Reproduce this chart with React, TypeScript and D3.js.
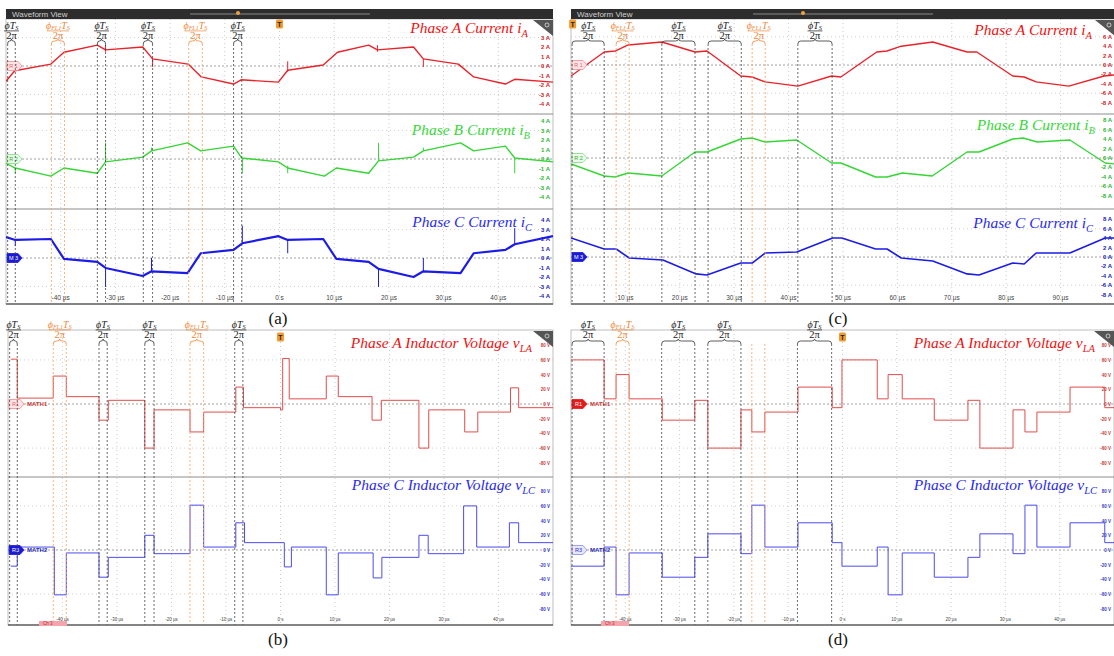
import React from "react";
import * as d3 from "d3";

const SERIF = "'Liberation Serif','Times New Roman',serif";
const SANS = "'Liberation Sans','DejaVu Sans',Arial,sans-serif";

// ---------------- DATA ----------------
// time tick labels (µs)
const timeTicksAB = [-40, -30, -20, -10, 0, 10, 20, 30, 40];
const timeTicksC = [10, 20, 30, 40, 50, 60, 70, 80, 90];
const timeTicksD = [-40, -30, -20, -10, 0, 10, 20, 30, 40];

// y tick labels
const ticksA_iA = [3, 2, 1, 0, -1, -2, -3, -4];
const ticksA_iBC = [4, 3, 2, 1, 0, -1, -2, -3, -4];
const ticksC_iA = [6, 4, 2, 0, -2, -4, -6, -8];
const ticksC_iBC = [8, 6, 4, 2, 0, -2, -4, -6, -8];
const ticksV = [80, 60, 40, 20, 0, -20, -40, -60, -80];

// bracket intervals [start, end] (µs)
const phiIntervalsAB = [[-49.7, -48.3], [-33.3, -31.8], [-24.9, -23.2], [-8.4, -6.9]];
const fl1IntervalsAB = [[-41.7, -39.3], [-16.6, -14.1]];
const phiIntervalsC = [[0.2, 6.1], [16.7, 22.8], [25.2, 31.3], [41.7, 48.0]];
const fl1IntervalsC = [[8.3, 10.7], [33.3, 35.7]];
const phiIntervalsD = [[-49.8, -43.9], [-33.3, -27.2], [-24.8, -18.7], [-8.3, -2.0]];
const fl1IntervalsD = [[-41.7, -39.3], [-16.7, -14.3]];

// Panel (a): [time µs, current A]
const a_iA = [
  [-50, -1.6], [-48.4, -0.5], [-41.8, 0.2], [-39.4, 1.45], [-33.3, 2.2], [-31.8, 1.7],
  [-25.0, 2.0], [-23.2, 0.75], [-16.7, 0.2], [-14.3, -1.15], [-8.4, -1.9], [-7.0, -1.45],
  [-0.2, -1.7], [1.5, -0.45], [8.0, 0.1], [10.6, 1.45], [16.3, 2.2], [17.9, 1.7],
  [24.5, 2.0], [26.3, 0.75], [32.7, 0.2], [35.5, -1.15], [41.3, -1.9], [43.0, -1.4], [50, -1.7],
];
const a_iB = [
  [-50, -0.45], [-48.3, -0.95], [-41.8, -1.8], [-39.4, -0.95], [-33.3, -1.5], [-31.8, -0.3],
  [-25.0, 0.2], [-23.4, 0.85], [-16.8, 1.7], [-14.4, 0.85], [-8.4, 1.35], [-6.9, 0.1],
  [-0.2, -0.3], [1.5, -0.95], [8.2, -1.8], [10.4, -0.95], [16.3, -1.5], [18.1, -0.2],
  [24.5, 0.2], [26.3, 0.85], [33.1, 1.7], [35.5, 0.85], [41.3, 1.35], [43.0, 0.1], [50, -0.3],
];
const a_iC = [
  [-50, 2.2], [-48.3, 1.9], [-41.8, 2.0], [-39.4, -0.1], [-33.3, -0.4], [-31.8, -1.05],
  [-25.0, -1.9], [-23.4, -1.4], [-16.8, -1.6], [-14.4, 0.5], [-8.4, 0.85], [-6.8, 1.55],
  [-0.2, 2.3], [1.5, 1.9], [8.0, 2.0], [10.4, -0.1], [16.3, -0.4], [18.1, -1.15],
  [24.5, -2.0], [26.3, -1.4], [33.1, -1.6], [35.5, 0.5], [41.3, 0.85], [43.0, 1.45], [50, 2.3],
];
// switching spikes [time, from, to]
const a_spikesA = [[-31.8, 2.2, 1.5], [-23.2, 0.75, -0.1], [1.5, 0.5, -0.6], [17.9, 2.2, 1.5], [26.3, 0.75, -0.1]];
const a_spikesB = [[-48.3, -0.95, -1.5], [-31.8, -0.3, 1.7], [-23.4, 0.85, 1.2], [-6.8, 0.1, -1.5], [1.5, -0.7, -1.5], [18.1, -0.2, 1.7], [26.3, 0.85, 1.2], [43.0, 0.1, -1.5]];
const a_spikesC = [[-48.3, 1.9, 1.25], [-31.8, -1.05, -3.05], [-23.4, -1.4, 0], [-6.8, 1.55, 3.4], [1.5, 1.9, 0.5], [18.1, -1.15, -3.05], [26.3, -1.4, 0], [43.0, 1.45, 3.15]];

// Panel (c): [time µs, current A]
const c_iA = [
  [0, -2.34], [6.1, 2.77], [8.2, 2.98], [10.5, 4.26], [16.7, 4.9], [22.8, 2.77], [25.0, 2.98],
  [31.2, -2.34], [33.3, -2.55], [35.7, -3.6], [41.7, -4.5], [47.9, -2.34], [49.6, -2.55],
  [56.2, 2.77], [58.1, 2.98], [60.7, 4.0], [66.5, 4.9], [72.8, 2.77], [74.6, 2.77],
  [81.2, -2.34], [83.3, -2.55], [85.5, -3.6], [91.5, -4.5], [98.0, -2.34], [100, -2.1],
];
const c_iB = [
  [0, -1.28], [6.1, -3.83], [8.1, -4.04], [10.5, -3.19], [16.7, -3.83], [22.8, 1.28], [25.0, 1.28],
  [31.2, 4.04], [33.3, 4.26], [35.7, 3.4], [41.5, 3.83], [47.9, -1.06], [49.6, -1.06],
  [56.0, -4.04], [58.1, -4.04], [60.9, -3.19], [66.4, -3.83], [72.8, 1.28], [75.0, 1.28],
  [81.2, 4.04], [83.1, 4.26], [85.7, 3.4], [91.7, 3.83], [98.2, -1.06], [100, -1.28],
];
const c_iC = [
  [0, 4.04], [6.1, 1.7], [8.3, 1.7], [10.7, -0.21], [16.9, -0.64], [23.0, -3.6], [25.0, -3.83],
  [31.2, -1.28], [33.3, -1.28], [35.7, 0.85], [41.5, 1.06], [48.1, 4.04], [49.8, 4.04],
  [56.0, 1.7], [58.1, 1.7], [60.7, -0.21], [66.5, -0.85], [72.8, -3.6], [75.0, -3.83],
  [81.2, -1.28], [83.3, -1.49], [85.5, 0.85], [91.7, 0.85], [98.2, 4.04], [100, 4.04],
];

// Panel (b): step edges (µs) and levels (V)
const b_vLA_times = [-49.5, -48.3, -41.7, -39.3, -33.3, -31.6, -24.9, -23.2, -16.6, -14.1, -8.2, -6.8, 0, 0.4, 1.6, 8.4, 10.6, 16.8, 18.5, 25.4, 27.2, 33.8, 36.2, 42.2, 43.7, 50];
const b_vLA_levels = [61, 8, 38, 10, -22, 5, -60, -8, -38, -11, 23, -5, -8, 62, 7, 38, 10, -22, 5, -60, -8, -38, -11, 22, -5];
const b_vLC_times = [-49.5, -48.3, -41.5, -39.3, -33.3, -31.6, -24.9, -23.2, -16.6, -14.1, -8.2, -6.6, 0.7, 2.0, 8.4, 10.6, 17.0, 18.6, 25.4, 27.1, 33.6, 36.0, 42.0, 43.7, 50];
const b_vLC_levels = [-22, 4, -61, -4, -37, -10, 20, -5, 61, 4, 37, 10, -23, 4, -61, -4, -38, -10, 20, -5, 60, 4, 37, 10];

// Panel (d): step edges (µs) and levels (V)
const d_times = [-50, -43.9, -41.7, -39.3, -33.2, -27.2, -24.8, -18.7, -16.7, -14.3, -8.2, -1.9, -0.1, 6.4, 8.4, 11.0, 16.9, 23.1, 25.3, 31.4, 33.6, 35.8, 41.9, 48.3, 50];
const d_vLA_levels = [60, 7, 40, 7, -22, 5, -60, -8, -38, -11, 23, -5, 60, 7, 40, 7, -22, 5, -60, -8, -38, -11, 23, -5];
const d_vLC_levels = [-22, 4, -61, -4, -37, -10, 22, -5, 61, 4, 37, 10, -22, 4, -61, -4, -37, -10, 22, -5, 61, 4, 37, 10];

// ---------------- COMPONENTS ----------------
let uid = 0;

function bracePath(xa: number, xb: number, y: number) {
  const m = (xa + xb) / 2;
  const r = Math.min(3, (xb - xa) / 4);
  return `M${xa},${y + 5} Q${xa},${y + 2} ${xa + r},${y + 2} L${m - r},${y + 2} Q${m},${y + 2} ${m},${y} Q${m},${y + 2} ${m + r},${y + 2} L${xb - r},${y + 2} Q${xb},${y + 2} ${xb},${y + 5}`;
}

function FracLabel({ cx, y, orange }: any) {
  const col = orange ? "#f0873a" : "#1a1a1a";
  const w = orange ? 22 : 15;
  return (
    <g fontFamily={SERIF} fontStyle="italic" fill={col}>
      {orange ? (
        <text x={cx} y={y} textAnchor="middle" fontSize={10}>
          ϕ<tspan fontSize={6} dy={1.2}>FL1</tspan>
          <tspan fontSize={10} dy={-1.2}>T</tspan>
          <tspan fontSize={6.5} dy={1.2}>S</tspan>
        </text>
      ) : (
        <text x={cx} y={y} textAnchor="middle" fontSize={10}>
          ϕT<tspan fontSize={6.5} dy={1.2}>S</tspan>
        </text>
      )}
      <line x1={cx - w / 2} x2={cx + w / 2} y1={y + 2.4} y2={y + 2.4} stroke={col} strokeWidth={0.7} />
      <text x={cx} y={y + 10.5} textAnchor="middle" fontSize={10.5} fontStyle="normal">2π</text>
    </g>
  );
}

function Marker({ x0, zy, m }: any) {
  const pts = `${x0 + 1},${zy - 4.5} ${x0 + 12},${zy - 4.5} ${x0 + 16},${zy} ${x0 + 12},${zy + 4.5} ${x0 + 1},${zy + 4.5}`;
  return (
    <g>
      <polygon points={pts} fill={m.fill} stroke={m.stroke} strokeWidth={0.8} />
      <text x={x0 + 7.5} y={zy + 2} textAnchor="middle" fontSize={5.5} fill={m.text} fontFamily={SANS}>{m.label}</text>
      {m.extra ? (
        <text x={x0 + 19} y={zy + 2.2} fontSize={6} fontWeight="bold" fill={m.extraColor} fontFamily={SANS}>{m.extra}</text>
      ) : null}
    </g>
  );
}

function RowView({ r, x, x0, x1 }: any) {
  const y = d3.scaleLinear().domain([-r.half, r.half]).range([r.zero + r.halfPx, r.zero - r.halfPx]);
  const id = `clip${uid++}`;
  let d = "";
  if (r.step) {
    const pts: [number, number][] = r.times.map((t: number, i: number) => [t, r.levels[Math.min(i, r.levels.length - 1)]]);
    d = d3.line<[number, number]>().x((p) => x(p[0])).y((p) => y(p[1])).curve(d3.curveStepAfter)(pts) || "";
  } else {
    d = d3.line<number[]>().x((p) => x(p[0])).y((p) => y(p[1]))(r.data) || "";
  }
  return (
    <g>
      {r.grid.map((v: number) => (
        <line key={"g" + v} x1={x0} x2={x1} y1={y(v)} y2={y(v)} stroke="#c4c4c4" strokeWidth={0.8} strokeDasharray="1,3" />
      ))}
      <line x1={x0} x2={x1} y1={y(0)} y2={y(0)} stroke="#8a8a8a" strokeWidth={0.8} strokeDasharray="2,2" />
      {r.ticks.map((v: number) => (
        <text key={"t" + v} x={x1 - 3} y={y(v) + 2} textAnchor="end" fontSize={r.tickFont} fontWeight="bold" fill={r.tickColor} fontFamily={SANS}>
          {`${v} ${r.unit}`}
        </text>
      ))}
      <text x={r.titleX} y={r.titleY} textAnchor="end" fontFamily={SERIF} fontStyle="italic" fontSize={15.5} fill={r.titleColor}>
        {r.title}
        <tspan fontSize={10.5} dy={4}>{r.sub}</tspan>
      </text>
      <clipPath id={id}>
        <rect x={x0} y={r.y0} width={x1 - x0} height={r.y1 - r.y0} />
      </clipPath>
      <g clipPath={`url(#${id})`}>
        <path d={d} fill="none" stroke={r.color} strokeWidth={r.width} strokeLinejoin="round" />
        {(r.spikes || []).map((s: number[], i: number) => (
          <line key={i} x1={x(s[0])} x2={x(s[0])} y1={y(s[1])} y2={y(s[2])} stroke={r.color} strokeWidth={1} />
        ))}
      </g>
      <Marker x0={x0} zy={y(0)} m={r.marker} />
      {r.sepBottom ? <line x1={x0} x2={x1} y1={r.y1} y2={r.y1} stroke="#8c8c8c" strokeWidth={1} /> : null}
    </g>
  );
}

function Panel({ c }: any) {
  const x = d3.scaleLinear().domain(c.tDomain).range([c.x0, c.x1]);
  const fmt = (t: number) => (t === 0 ? "0 s" : `${t} µs`);
  return (
    <g>
      <rect x={c.x0} y={c.top} width={c.x1 - c.x0} height={c.bottom - c.top} fill="#fff" stroke="#b0b0b0" strokeWidth={0.8} />
      {c.timeTicks.map((t: number) => (
        <line key={t} x1={x(t)} x2={x(t)} y1={c.top} y2={c.bottom} stroke="#bdbdbd" strokeWidth={0.8} strokeDasharray="1,3" />
      ))}
      {c.rows.map((r: any, i: number) => (
        <RowView key={i} r={r} x={x} x0={c.x0} x1={c.x1} />
      ))}
      {c.phi.map((iv: number[], i: number) => (
        <g key={"p" + i}>
          <line x1={x(iv[0])} x2={x(iv[0])} y1={c.braceY + 5} y2={c.bottom} stroke="#444" strokeWidth={0.8} strokeDasharray="2,2" />
          <line x1={x(iv[1])} x2={x(iv[1])} y1={c.braceY + 5} y2={c.bottom} stroke="#444" strokeWidth={0.8} strokeDasharray="2,2" />
          <path d={bracePath(x(iv[0]), x(iv[1]), c.braceY)} fill="none" stroke="#333" strokeWidth={0.8} />
          <FracLabel cx={(x(iv[0]) + x(iv[1])) / 2} y={c.labelY} orange={false} />
        </g>
      ))}
      {c.fl.map((iv: number[], i: number) => (
        <g key={"f" + i}>
          <line x1={x(iv[0])} x2={x(iv[0])} y1={c.braceY + 5} y2={c.bottom} stroke="#f3a062" strokeWidth={0.8} strokeDasharray="2,2" />
          <line x1={x(iv[1])} x2={x(iv[1])} y1={c.braceY + 5} y2={c.bottom} stroke="#f3a062" strokeWidth={0.8} strokeDasharray="2,2" />
          {c.flLabeled[i] ? (
            <g>
              <path d={bracePath(x(iv[0]), x(iv[1]), c.braceY)} fill="none" stroke="#f0873a" strokeWidth={0.8} />
              <FracLabel cx={(x(iv[0]) + x(iv[1])) / 2} y={c.labelY} orange={true} />
            </g>
          ) : null}
        </g>
      ))}
      {c.timeTicks.map((t: number) => (
        <text key={"tl" + t} x={x(t)} y={c.timeY} textAnchor="middle" fontSize={c.timeFont} fill="#444" fontFamily={SANS}>{fmt(t)}</text>
      ))}
      <line x1={c.x0} x2={c.x1} y1={c.bottom} y2={c.bottom} stroke="#666" strokeWidth={1.5} />
      {c.header ? (
        <g>
          <rect x={c.x0} y={c.header.y} width={c.x1 - c.x0} height={10} fill="#2d2d2d" />
          <text x={c.x0 + 6} y={c.header.y + 8} fontSize={8} fill="#cfcfcf" fontFamily={SANS}>Waveform View</text>
          <line x1={c.header.s0} x2={c.header.s1} y1={c.header.y + 5} y2={c.header.y + 5} stroke="#8a8a8a" strokeWidth={1} />
          <circle cx={c.header.mk} cy={c.header.y + 4} r={2} fill="#f0a040" />
        </g>
      ) : null}
      <polygon points={`${c.x1 - 20},${c.top + 1} ${c.x1},${c.top + 1} ${c.x1},${c.top + 17}`} fill="#555" />
      <circle cx={c.x1 - 6} cy={c.top + 6} r={2} fill="none" stroke="#ddd" strokeWidth={0.8} />
      <g>
        <rect x={x(c.trigT) - 3.5} y={c.trigY - 4.5} width={7} height={9} rx={1.5} fill="#f29a2e" />
        <text x={x(c.trigT)} y={c.trigY + 2.5} textAnchor="middle" fontSize={7} fontWeight="bold" fill="#222" fontFamily={SANS}>T</text>
      </g>
      {c.chTag ? (
        <g>
          <rect x={c.chTag} y={c.bottom - 4} width={28} height={5} fill="#f5a3ad" />
          <text x={c.chTag + 4} y={c.bottom} fontSize={4.5} fill="#b33" fontFamily={SANS}>Ch 3</text>
        </g>
      ) : null}
      <text x={c.capX} y={c.capY} textAnchor="middle" fontSize={17} fill="#111" fontFamily={SERIF}>{c.caption}</text>
    </g>
  );
}

// ---------------- LAYOUT ----------------
const mkR = (label: string, fill: string, stroke: string, text: string, extra?: string, extraColor?: string) => ({ label, fill, stroke, text, extra, extraColor });

const curRows = (zeros: number[], half: number, halfPx: number, tk1: number[], tk2: number[], data: any[], spikes: any[], tx: number[], ty: number[], bounds: number[][], widthC: number) => [
  { y0: bounds[0][0], y1: bounds[0][1], zero: zeros[0], half, halfPx, grid: [half * 0.6, -half * 0.6], ticks: tk1, unit: "A", tickFont: 6, tickColor: "#d42424", color: "#e8232a", width: 1.4, data: data[0], spikes: spikes[0], title: "Phase A Current i", sub: "A", titleX: tx[0], titleY: ty[0], titleColor: "#ee1111", marker: mkR("R 1", "#fde4e6", "#f08a90", "#e66"), sepBottom: true },
  { y0: bounds[1][0], y1: bounds[1][1], zero: zeros[1], half, halfPx, grid: [half * 0.6, -half * 0.6], ticks: tk2, unit: "A", tickFont: 6, tickColor: "#2cb82c", color: "#35d635", width: 1.4, data: data[1], spikes: spikes[1], title: "Phase B Current i", sub: "B", titleX: tx[1], titleY: ty[1], titleColor: "#38d838", marker: mkR("R 2", "#eafbea", "#7ddc7d", "#3a3"), sepBottom: true },
  { y0: bounds[2][0], y1: bounds[2][1], zero: zeros[2], half, halfPx, grid: [half * 0.6, -half * 0.6], ticks: tk2, unit: "A", tickFont: 6, tickColor: "#2222b8", color: "#1c1ce6", width: widthC, data: data[2], spikes: spikes[2], title: "Phase C Current i", sub: "C", titleX: tx[2], titleY: ty[2], titleColor: "#2a2aee", marker: mkR("M 3", "#1a1ad8", "#1a1ad8", "#fff"), sepBottom: false },
];

const panelA = {
  x0: 6, x1: 553, tDomain: [-50, 50], top: 19, bottom: 304, timeTicks: timeTicksAB, timeY: 300, timeFont: 6.5,
  header: { y: 9, s0: 190, s1: 370, mk: 238 },
  rows: curRows([66, 159, 258], 5, 47.5, ticksA_iA, ticksA_iBC, [a_iA, a_iB, a_iC], [a_spikesA, a_spikesB, a_spikesC], [528, 530, 532], [33, 135, 227], [[19, 114], [114, 209], [209, 304]], 2.2),
  phi: phiIntervalsAB, fl: fl1IntervalsAB, flLabeled: [true, true], labelY: 28.5, braceY: 39,
  trigT: 0, trigY: 24, caption: "(a)", capX: 278, capY: 324,
};

const panelC = {
  x0: 571, x1: 1115, tDomain: [0, 100], top: 19, bottom: 304, timeTicks: timeTicksC, timeY: 300, timeFont: 6.5,
  header: { y: 9, s0: 753, s1: 933, mk: 803 },
  rows: curRows([65, 158, 257], 10, 47, ticksC_iA, ticksC_iBC, [c_iA, c_iB, c_iC], [[], [], []], [1092, 1095, 1093], [35, 130, 228], [[19, 114], [114, 209], [209, 304]], 1.6),
  phi: phiIntervalsC, fl: fl1IntervalsC, flLabeled: [true, true], labelY: 28.5, braceY: 39,
  trigT: 0.3, trigY: 24, caption: "(c)", capX: 838, capY: 324,
};

const voltRows = (times1: number[], lv1: number[], times2: number[], lv2: number[], tx: number[], markers: any[]) => [
  { y0: 330, y1: 477, zero: 404, half: 100, halfPx: 73.5, grid: [60, -60], ticks: ticksV, unit: "V", tickFont: 4.5, tickColor: "#c83a3a", color: "#e24c4c", width: 1, step: true, times: times1, levels: lv1, title: "Phase A Inductor Voltage v", sub: "LA", titleX: tx[0], titleY: 348, titleColor: "#ee1111", marker: markers[0], sepBottom: true },
  { y0: 477, y1: 625, zero: 550, half: 100, halfPx: 73.5, grid: [60, -60], ticks: ticksV, unit: "V", tickFont: 4.5, tickColor: "#3a3ac8", color: "#4b4bf0", width: 1, step: true, times: times2, levels: lv2, title: "Phase C Inductor Voltage v", sub: "LC", titleX: tx[1], titleY: 490, titleColor: "#2a2aee", marker: markers[1], sepBottom: false },
];

const panelB = {
  x0: 8, x1: 553, tDomain: [-50, 50], top: 330, bottom: 625, timeTicks: timeTicksAB, timeY: 621, timeFont: 4.5,
  header: null,
  rows: voltRows(b_vLA_times, b_vLA_levels, b_vLC_times, b_vLC_levels, [532, 535], [
    mkR("R1", "#fde4e6", "#f08a90", "#e66", "MATH1", "#c83a3a"),
    mkR("R3", "#1a1ad8", "#1a1ad8", "#fff", "MATH2", "#2a2ab0"),
  ]),
  phi: phiIntervalsAB, fl: fl1IntervalsAB, flLabeled: [true, true], labelY: 327.5, braceY: 339,
  trigT: 0, trigY: 337, chTag: 39, caption: "(b)", capX: 278, capY: 645,
};

const panelD = {
  x0: 571, x1: 1114, tDomain: [-50, 50], top: 330, bottom: 625, timeTicks: timeTicksD, timeY: 621, timeFont: 4.5,
  header: null,
  rows: voltRows(d_times, d_vLA_levels, d_times, d_vLC_levels, [1095, 1097], [
    mkR("R1", "#e01c1c", "#e01c1c", "#fff", "MATH1", "#c83a3a"),
    mkR("R3", "#e6e6fb", "#8a8ae8", "#33c", "MATH2", "#2a2ab0"),
  ]),
  phi: phiIntervalsD, fl: fl1IntervalsD, flLabeled: [true, false], labelY: 327.5, braceY: 339,
  trigT: 0, trigY: 337, chTag: 601, caption: "(d)", capX: 838, capY: 645,
};

export default function App() {
  return (
    <svg width={1114} height={656} style={{ position: "absolute", left: 0, top: 0 }} fontFamily={SANS}>
      <rect width={1114} height={656} fill="#fff" />
      <Panel c={panelA} />
      <Panel c={panelC} />
      <Panel c={panelB} />
      <Panel c={panelD} />
    </svg>
  );
}
